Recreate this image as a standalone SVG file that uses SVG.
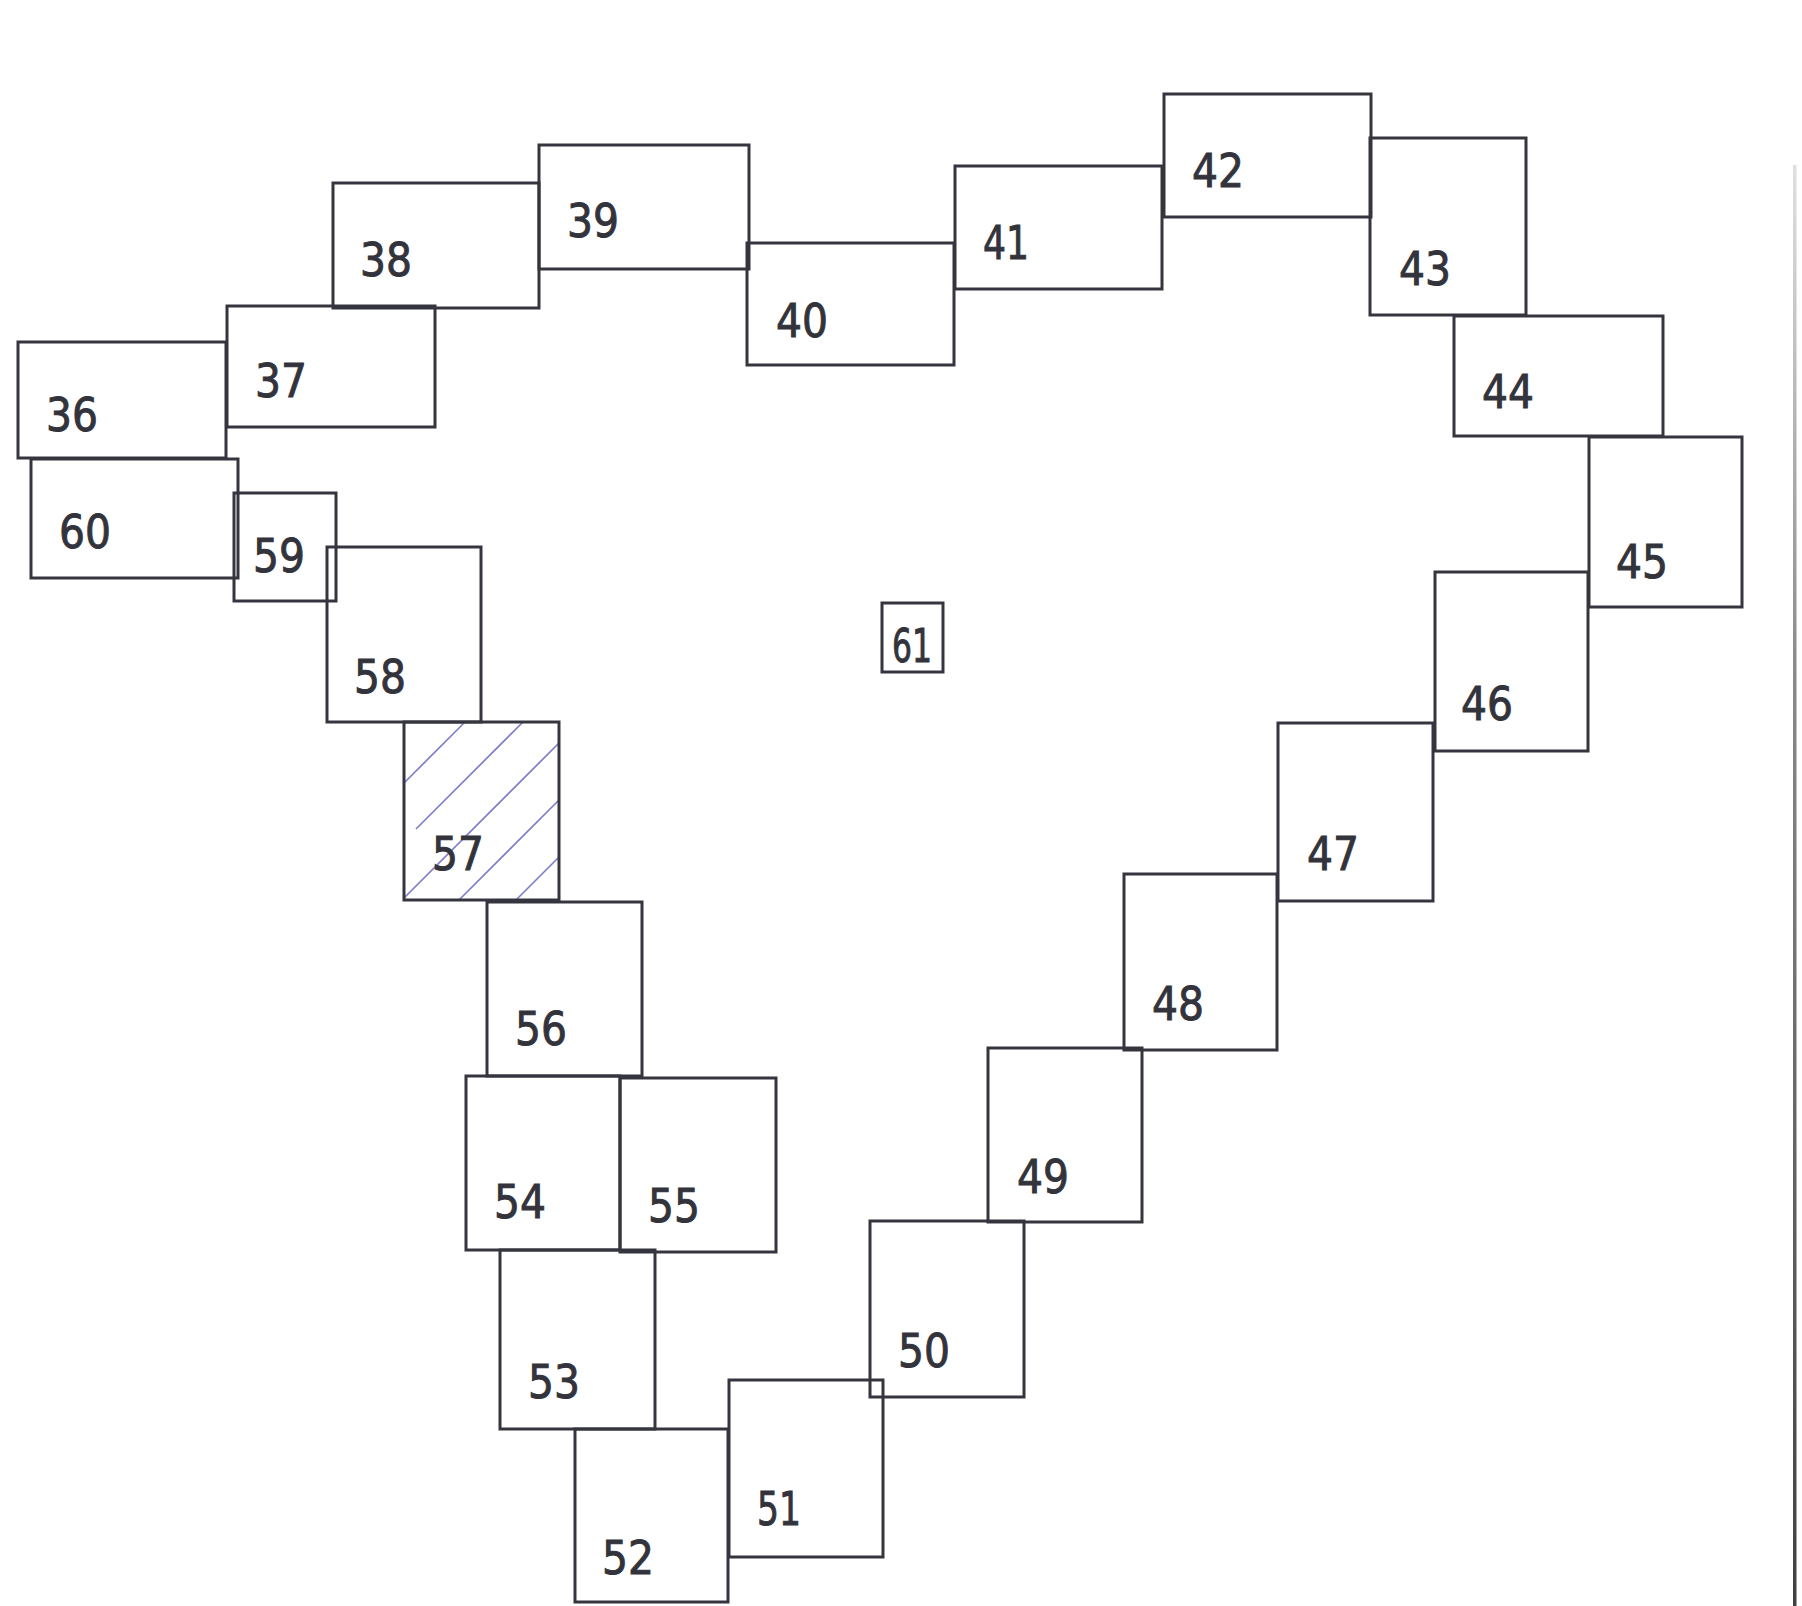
<svg xmlns="http://www.w3.org/2000/svg" width="1802" height="1606" viewBox="0 0 1802 1606">
<style>
.b{fill:none;stroke:#35353f;stroke-width:3}
.t{font-family:"DejaVu Sans","Liberation Sans",sans-serif;font-size:47px;fill:#33333c;stroke:#33333c;stroke-width:1}
.h{stroke:#7f7fcc;stroke-width:1.7;fill:none}
</style>
<defs>
<linearGradient id="edge" gradientUnits="userSpaceOnUse" x1="0" y1="165" x2="0" y2="1606">
<stop offset="0" stop-color="#e0e0e0"/>
<stop offset="0.35" stop-color="#8a8a8a"/>
<stop offset="1" stop-color="#404040"/>
</linearGradient>
</defs>
<rect width="1802" height="1606" fill="#ffffff"/>
<g id="connectors"></g>
<rect x="1793" y="165" width="3.5" height="1441" fill="url(#edge)"/>
<g id="n36"><rect class="b" x="18" y="342" width="208" height="116"/><text class="t" x="46" y="431" textLength="52" lengthAdjust="spacingAndGlyphs">36</text></g>
<g id="n37"><rect class="b" x="227" y="306" width="208" height="121"/><text class="t" x="255" y="397" textLength="52" lengthAdjust="spacingAndGlyphs">37</text></g>
<g id="n38"><rect class="b" x="333" y="183" width="206" height="125"/><text class="t" x="360" y="276" textLength="52" lengthAdjust="spacingAndGlyphs">38</text></g>
<g id="n39"><rect class="b" x="539" y="145" width="210" height="124"/><text class="t" x="567" y="237" textLength="52" lengthAdjust="spacingAndGlyphs">39</text></g>
<g id="n40"><rect class="b" x="747" y="243" width="207" height="122"/><text class="t" x="776" y="337" textLength="52" lengthAdjust="spacingAndGlyphs">40</text></g>
<g id="n41"><rect class="b" x="955" y="166" width="207" height="123"/><text class="t" x="983" y="259" textLength="46" lengthAdjust="spacingAndGlyphs">41</text></g>
<g id="n42"><rect class="b" x="1164" y="94" width="207" height="123"/><text class="t" x="1192" y="187" textLength="52" lengthAdjust="spacingAndGlyphs">42</text></g>
<g id="n43"><rect class="b" x="1370" y="138" width="156" height="177"/><text class="t" x="1399" y="285" textLength="52" lengthAdjust="spacingAndGlyphs">43</text></g>
<g id="n44"><rect class="b" x="1454" y="316" width="209" height="120"/><text class="t" x="1482" y="408" textLength="52" lengthAdjust="spacingAndGlyphs">44</text></g>
<g id="n45"><rect class="b" x="1589" y="437" width="153" height="170"/><text class="t" x="1616" y="578" textLength="52" lengthAdjust="spacingAndGlyphs">45</text></g>
<g id="n46"><rect class="b" x="1435" y="572" width="153" height="179"/><text class="t" x="1461" y="720" textLength="52" lengthAdjust="spacingAndGlyphs">46</text></g>
<g id="n47"><rect class="b" x="1278" y="723" width="155" height="178"/><text class="t" x="1307" y="870" textLength="52" lengthAdjust="spacingAndGlyphs">47</text></g>
<g id="n48"><rect class="b" x="1124" y="874" width="153" height="176"/><text class="t" x="1152" y="1020" textLength="52" lengthAdjust="spacingAndGlyphs">48</text></g>
<g id="n49"><rect class="b" x="988" y="1048" width="154" height="174"/><text class="t" x="1017" y="1193" textLength="52" lengthAdjust="spacingAndGlyphs">49</text></g>
<g id="n50"><rect class="b" x="870" y="1221" width="154" height="176"/><text class="t" x="898" y="1367" textLength="52" lengthAdjust="spacingAndGlyphs">50</text></g>
<g id="n51"><rect class="b" x="729" y="1380" width="154" height="177"/><text class="t" x="757" y="1525" textLength="44" lengthAdjust="spacingAndGlyphs">51</text></g>
<g id="n52"><rect class="b" x="575" y="1429" width="153" height="173"/><text class="t" x="602" y="1574" textLength="52" lengthAdjust="spacingAndGlyphs">52</text></g>
<g id="n53"><rect class="b" x="500" y="1250" width="155" height="179"/><text class="t" x="528" y="1398" textLength="52" lengthAdjust="spacingAndGlyphs">53</text></g>
<g id="n54"><rect class="b" x="466" y="1076" width="154" height="174"/><text class="t" x="494" y="1218" textLength="52" lengthAdjust="spacingAndGlyphs">54</text></g>
<g id="n55"><rect class="b" x="620" y="1078" width="156" height="174"/><text class="t" x="648" y="1222" textLength="52" lengthAdjust="spacingAndGlyphs">55</text></g>
<g id="n56"><rect class="b" x="487" y="902" width="155" height="174"/><text class="t" x="515" y="1045" textLength="52" lengthAdjust="spacingAndGlyphs">56</text></g>
<g id="n57">
<path class="h" d="M404 783L465 722M416 829L523 722M404 898L559 743M459 900L559 800M516 900L559 857"/>
<rect class="b" x="404" y="722" width="155" height="178"/><text class="t" x="432" y="870" textLength="52" lengthAdjust="spacingAndGlyphs">57</text></g>
<g id="n58"><rect class="b" x="327" y="547" width="154" height="175"/><text class="t" x="354" y="693" textLength="52" lengthAdjust="spacingAndGlyphs">58</text></g>
<g id="n59"><rect class="b" x="234" y="493" width="102" height="108"/><text class="t" x="253" y="572" textLength="52" lengthAdjust="spacingAndGlyphs">59</text></g>
<g id="n60"><rect class="b" x="31" y="459" width="207" height="119"/><text class="t" x="59" y="548" textLength="52" lengthAdjust="spacingAndGlyphs">60</text></g>
<g id="n61"><rect class="b" x="882" y="603" width="61" height="69"/><text class="t" x="892" y="662" font-size="50" textLength="40" lengthAdjust="spacingAndGlyphs">61</text></g>
</svg>
